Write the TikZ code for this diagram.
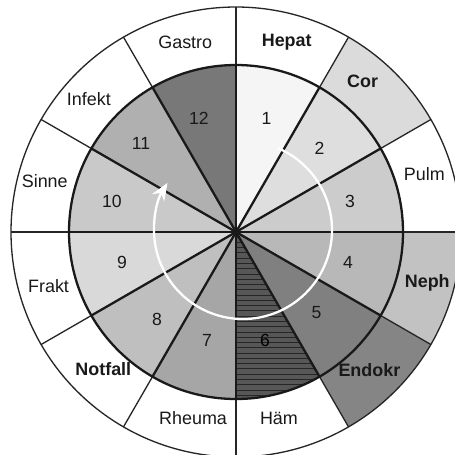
\documentclass[tikz,border=0pt]{standalone}
\usepackage{fontspec}
\setmainfont{Liberation Sans}
\usepackage{tikz}
\usetikzlibrary{arrows.meta, patterns, calc}
\definecolor{ShadeA}{gray}{0.96}
\definecolor{ShadeB}{gray}{0.87}
\definecolor{ShadeC}{gray}{0.80}
\definecolor{ShadeD}{gray}{0.72}
\definecolor{ShadeE}{gray}{0.50}
\definecolor{ShadeF}{gray}{0.34}
\definecolor{ShadeG}{gray}{0.65}
\definecolor{ShadeH}{gray}{0.75}
\definecolor{ShadeI}{gray}{0.85}
\definecolor{ShadeJ}{gray}{0.79}
\definecolor{ShadeK}{gray}{0.69}
\definecolor{ShadeL}{gray}{0.47}
\definecolor{RingCor}{gray}{0.86}
\definecolor{RingNeph}{gray}{0.76}
\definecolor{RingEndo}{gray}{0.52}

\begin{document}
\begin{tikzpicture}[x=0.02cm, y=0.02cm,
            lab/.style={font=\fontsize{10.2}{12}\selectfont, text=black!90},
            blab/.style={lab, font=\fontsize{10.2}{12}\selectfont\bfseries},
            num/.style={font=\fontsize{10}{12}\selectfont, text=black!90},
            thinline/.style={black!85, line width=0.75pt},
            thickline/.style={black!90, line width=1.3pt},
            turn/.style={white, line width=1.3pt, -{Stealth[length=10pt, width=8pt]}}
          ]
          \clip (-236,-222) rectangle (219,232);
          \fill[white] (-236,-222) rectangle (219,232);

          % inner sectors
          \fill[ShadeA] (0,0) -- (90:167)  arc[start angle=90,  end angle=60,   radius=167] -- cycle;
          \fill[ShadeB] (0,0) -- (60:167)  arc[start angle=60,  end angle=30,   radius=167] -- cycle;
          \fill[ShadeC] (0,0) -- (30:167)  arc[start angle=30,  end angle=0,    radius=167] -- cycle;
          \fill[ShadeD] (0,0) -- (0:167)   arc[start angle=0,   end angle=-30,  radius=167] -- cycle;
          \fill[ShadeE] (0,0) -- (-30:167) arc[start angle=-30, end angle=-60,  radius=167] -- cycle;
          \fill[ShadeF] (0,0) -- (-60:167) arc[start angle=-60, end angle=-90,  radius=167] -- cycle;
          \fill[pattern=horizontal lines, pattern color=black!85]
                        (0,0) -- (-60:167) arc[start angle=-60, end angle=-90,  radius=167] -- cycle;
          \fill[ShadeG] (0,0) -- (-90:167) arc[start angle=-90, end angle=-120, radius=167] -- cycle;
          \fill[ShadeH] (0,0) -- (240:167) arc[start angle=240, end angle=210,  radius=167] -- cycle;
          \fill[ShadeI] (0,0) -- (210:167) arc[start angle=210, end angle=180,  radius=167] -- cycle;
          \fill[ShadeJ] (0,0) -- (180:167) arc[start angle=180, end angle=150,  radius=167] -- cycle;
          \fill[ShadeK] (0,0) -- (150:167) arc[start angle=150, end angle=120,  radius=167] -- cycle;
          \fill[ShadeL] (0,0) -- (120:167) arc[start angle=120, end angle=90,   radius=167] -- cycle;

          % shaded ring parts
          \fill[RingCor]  (60:167)  arc[start angle=60,  end angle=30,  radius=167]
                          -- (30:225) arc[start angle=30,  end angle=60,  radius=225] -- cycle;
          \fill[RingNeph] (0:167)   arc[start angle=0,   end angle=-30, radius=167]
                          -- (-30:225) arc[start angle=-30, end angle=0,  radius=225] -- cycle;
          \fill[RingEndo] (-30:167) arc[start angle=-30, end angle=-60, radius=167]
                          -- (-60:225) arc[start angle=-60, end angle=-30, radius=225] -- cycle;

          % ring dividers and outline
          \draw[thinline] (0,0) circle[radius=225];
          \draw[thinline] (90:167) -- (90:225);
          \draw[thinline] (60:167) -- (60:225);
          \draw[thinline] (30:167) -- (30:225);
          \draw[thinline] (0:167) -- (0:225);
          \draw[thinline] (-30:167) -- (-30:225);
          \draw[thinline] (-60:167) -- (-60:225);
          \draw[thinline] (-90:167) -- (-90:225);
          \draw[thinline] (240:167) -- (240:225);
          \draw[thinline] (210:167) -- (210:225);
          \draw[thinline] (180:167) -- (180:225);
          \draw[thinline] (150:167) -- (150:225);
          \draw[thinline] (120:167) -- (120:225);

          % spokes of the inner disc
          \coordinate (hub) at (0,0);
          \draw[thickline] (hub) -- (90:167);
          \draw[thickline] (hub) -- (60:167);
          \draw[thickline] (hub) -- (30:167);
          \draw[thickline] (hub) -- (0:167);
          \draw[thickline] (hub) -- (-30:167);
          \draw[thickline] (hub) -- (-60:167);
          \draw[thickline] (hub) -- (-90:167);
          \draw[thickline] (hub) -- (240:167);
          \draw[thickline] (hub) -- (210:167);
          \draw[thickline] (hub) -- (180:167);
          \draw[thickline] (hub) -- (150:167);
          \draw[thickline] (hub) -- (120:167);
          \draw[thickline] (hub) circle[radius=167];

          % numbers
          \node[num] (n1)  at (75:118)  {1};
          \node[num] (n2)  at (45:118)  {2};
          \node[num] (n3)  at (15:118)  {3};
          \node[num] (n4)  at (-15:116) {4};
          \node[num] (n5)  at (-45:114) {5};
          \node[num, text=black] (n6)  at (-75:112) {6};
          \node[num] (n7)  at (255:112) {7};
          \node[num] (n8)  at (228:118) {8};
          \node[num] (n9)  at (195:118) {9};
          \node[num] (n10) at (166:128) {10};
          \node[num] (n11) at (137:130) {11};
          \node[num] (n12) at (108:120) {12};

          % ring labels
          \node[blab] (hepat)   at (75:196)  {Hepat};
          \node[blab] (cor)     at (50:197)  {Cor};
          \node[lab]  (pulm)    at (17:197)  {Pulm};
          \node[blab] (neph)    at (-15:198) {Neph};
          \node[blab] (endokr)  at (-46:192) {Endokr};
          \node[lab]  (haem)    at (-77:191) {Häm};
          \node[lab]  (rheuma)  at (-103:191) {Rheuma};
          \node[blab] (notfall) at (226:191) {Notfall};
          \node[lab]  (frakt)   at (196:195) {Frakt};
          \node[lab]  (sinne)   at (165:198) {Sinne};
          \node[lab]  (infekt)  at (138:198) {Infekt};
          \node[lab]  (gastro)  at (105:196) {Gastro};

          % rotation arrow
          \coordinate (turnstart) at ($(7,2)+(67:89)$);
          \draw[turn] (turnstart) arc[start angle=67, end angle=-212, radius=89];
        \end{tikzpicture}
\end{document}
